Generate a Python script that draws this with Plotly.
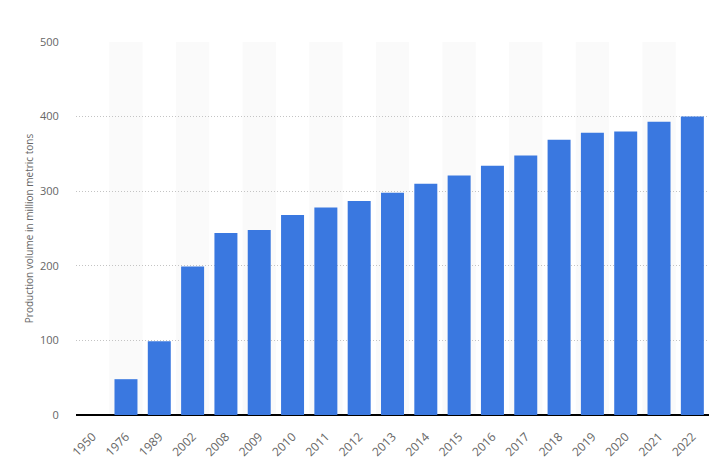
import plotly.graph_objects as go

years = ["1950", "1976", "1989", "2002", "2008", "2009", "2010", "2011", "2012",
         "2013", "2014", "2015", "2016", "2017", "2018", "2019", "2020", "2021", "2022"]
production = [0, 48, 99, 199, 244, 248, 268, 278, 287, 298, 310, 321, 334, 348,
              369, 378.5, 380, 393, 400]
y_ticks = [0, 100, 200, 300, 400, 500]

fig = go.Figure()
fig.add_trace(go.Bar(
    x=years, y=production,
    marker=dict(color="#3a78e0", line=dict(width=0)),
    hovertemplate="%{x}: %{y}<extra></extra>",
))

# alternating light background bands per category
for i, _ in enumerate(years):
    if i % 2 == 1:
        fig.add_shape(type="rect", xref="x", yref="paper",
                      x0=i - 0.5, x1=i + 0.5, y0=0, y1=1,
                      fillcolor="#fafafa", line=dict(width=0), layer="below")

fig.update_layout(
    width=716, height=464,
    margin=dict(l=76, r=7, t=42, b=49),
    paper_bgcolor="white", plot_bgcolor="white",
    bargap=0.31,
    showlegend=False,
    font=dict(family="Open Sans, sans-serif", color="#666666", size=11),
)
fig.update_xaxes(
    type="category",
    tickangle=-45,
    tickfont=dict(size=12, color="#666666"),
    showgrid=False,
    showline=False,
    ticks="outside", ticklen=9, tickcolor="rgba(0,0,0,0)",
    automargin=False,
)
fig.update_yaxes(
    range=[0, 500],
    tickvals=y_ticks,
    tickfont=dict(size=11, color="#666666"),
    showgrid=True, gridcolor="#c4c4c4", griddash="1px,2px", gridwidth=1,
    zeroline=True, zerolinecolor="#000000", zerolinewidth=2,
    showline=False,
    ticks="outside", ticklen=14, tickcolor="rgba(0,0,0,0)",
    automargin=False,
    title=dict(text="Production volume in million metric tons",
               font=dict(size=10, color="#666666"), standoff=4),
)

fig.write_html("out.html",
               config={"displayModeBar": False},
               post_script="document.body.style.margin='0';document.body.style.overflow='hidden';")
